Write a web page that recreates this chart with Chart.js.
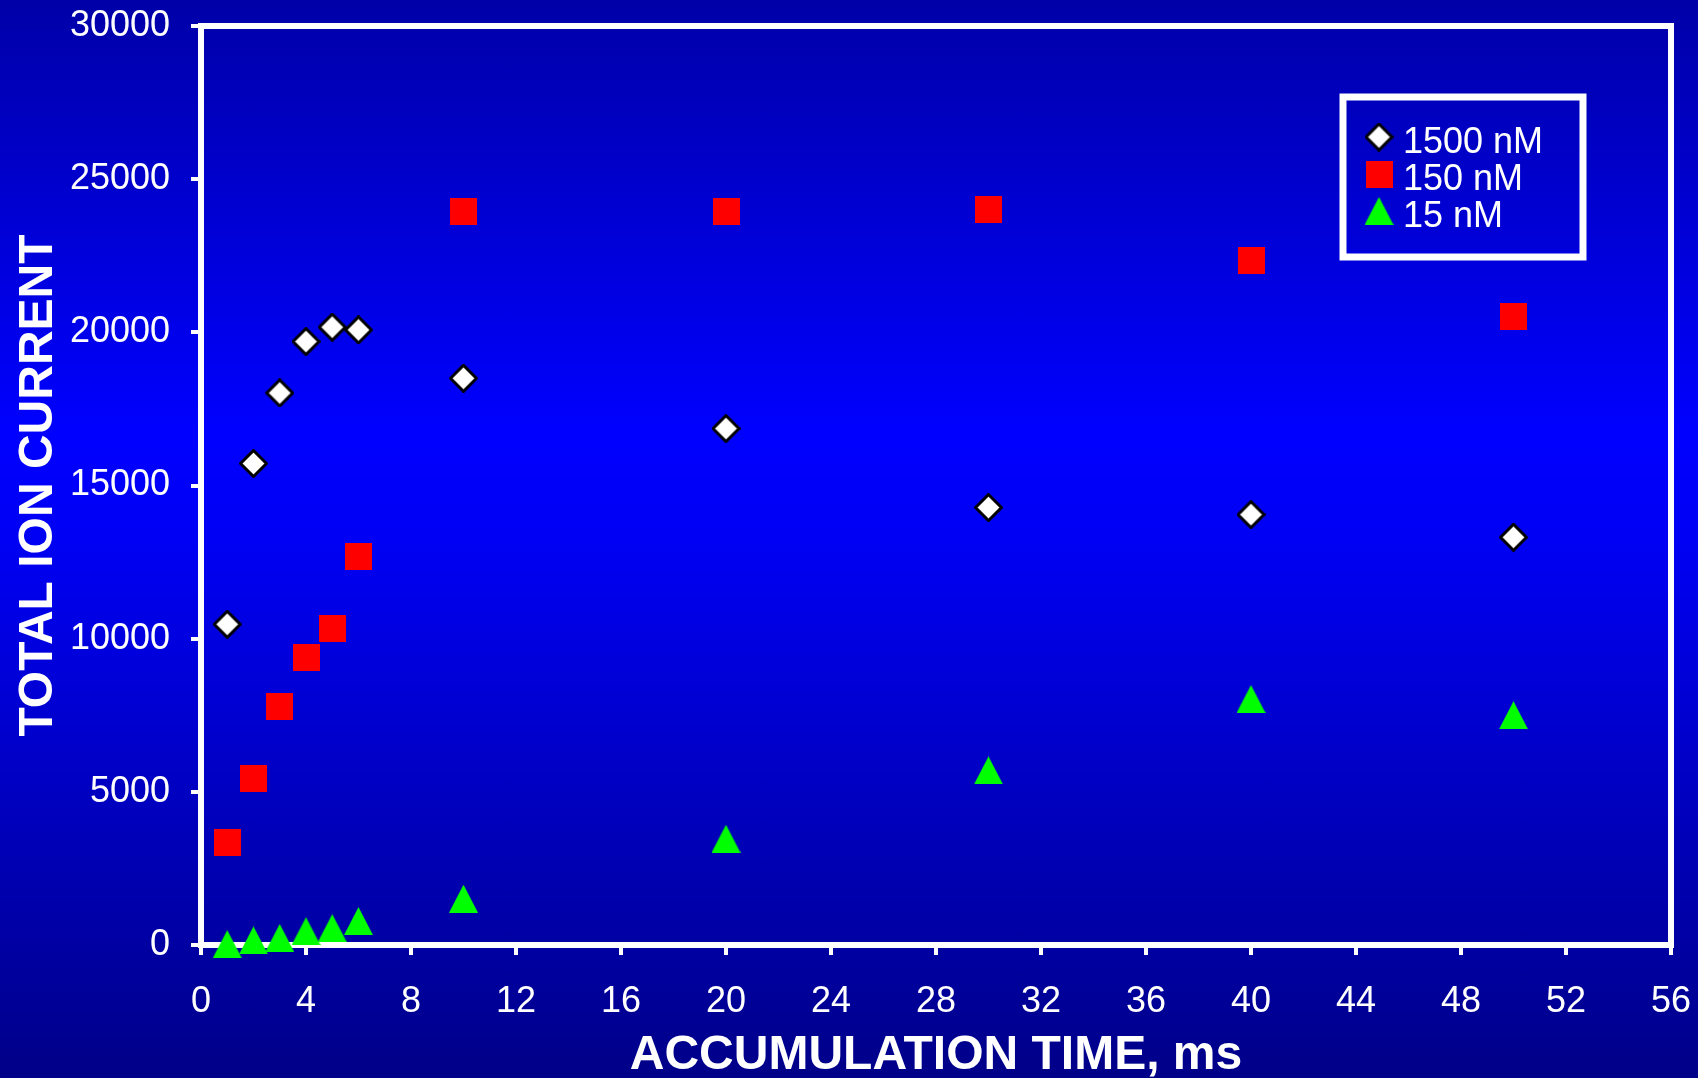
<!DOCTYPE html>
<html>
<head>
<meta charset="utf-8">
<title>Total ion current vs accumulation time</title>
<script src="https://cdn.jsdelivr.net/npm/chart.js@4.4.1/dist/chart.umd.min.js"></script>
<style>
  html, body { margin: 0; padding: 0; }
  body {
    width: 1698px;
    height: 1078px;
    overflow: hidden;
    background: linear-gradient(to bottom, #0000a8 0%, #0000ff 40%, #0000f4 50%, #000088 100%);
  }
</style>
</head>
<body>
<canvas id="ionChart" width="1698" height="1078"></canvas>
<script>
// accumulation time (ms) and total ion current per concentration
const accumTimes = [1, 2, 3, 4, 5, 6, 10, 20, 30, 40, 50];
const current1500 = [10470, 15720, 18020, 19700, 20170, 20080, 18500, 16860, 14280, 14050, 13310];
const current150 = [3350, 5440, 7800, 9390, 10340, 12670, 23960, 23960, 24010, 22330, 20520];
const current15 = [30, 150, 230, 450, 550, 780, 1510, 3470, 5700, 8030, 7500];
const seriesLabels = ['1500 nM', '150 nM', '15 nM'];

const xMax = 56, xStep = 4;
const yMax = 30000, yStep = 5000;

const FONT = "'Liberation Sans', Arial, sans-serif";

function makeDiamond(size) {
    const c = document.createElement('canvas');
    c.width = size; c.height = size;
    const g = c.getContext('2d');
    const h = size / 2;
    g.beginPath();
    g.moveTo(h, 1.5);
    g.lineTo(size - 1.5, h);
    g.lineTo(h, size - 1.5);
    g.lineTo(1.5, h);
    g.closePath();
    g.fillStyle = '#ffffff';
    g.fill();
    g.lineWidth = 3;
    g.strokeStyle = '#000000';
    g.stroke();
    return c;
}

function makeSquare(size) {
    const c = document.createElement('canvas');
    c.width = size; c.height = size;
    const g = c.getContext('2d');
    g.fillStyle = '#ff0000';
    g.fillRect(0, 0, size, size);
    return c;
}

function makeTriangle(w, h) {
    const c = document.createElement('canvas');
    c.width = w; c.height = h;
    const g = c.getContext('2d');
    g.beginPath();
    g.moveTo(w / 2, 0);
    g.lineTo(w, h);
    g.lineTo(0, h);
    g.closePath();
    g.fillStyle = '#00ff00';
    g.fill();
    return c;
}

const diamondImg = makeDiamond(29);
const squareImg = makeSquare(27);
const triangleImg = makeTriangle(29, 28);

function toPoints(values) {
    return accumTimes.map((t, i) => ({ x: t, y: values[i] }));
}

// keep the plot box fixed: no extra room for overhanging tick labels
function noScalePadding(scale) {
    scale.paddingLeft = 0;
    scale.paddingRight = 0;
    scale.paddingTop = 0;
    scale.paddingBottom = 0;
}

// white frame around the plot area, drawn under the markers
const plotFrame = {
    id: 'plotFrame',
    beforeDatasetsDraw(chart) {
        const { ctx, chartArea } = chart;
        ctx.save();
        ctx.strokeStyle = '#ffffff';
        ctx.lineWidth = 6;
        ctx.strokeRect(chartArea.left, chartArea.top, chartArea.right - chartArea.left, chartArea.bottom - chartArea.top);
        ctx.restore();
    }
};

// boxed legend in the upper right of the plot
const boxedLegend = {
    id: 'boxedLegend',
    afterDraw(chart) {
        const { ctx, chartArea } = chart;
        const x = chartArea.right - 328;
        const y = chartArea.top + 71;
        ctx.save();
        ctx.strokeStyle = '#ffffff';
        ctx.lineWidth = 7;
        ctx.strokeRect(x, y, 240, 160);
        ctx.font = '36px ' + FONT;
        ctx.fillStyle = '#ffffff';
        ctx.textAlign = 'left';
        ctx.textBaseline = 'alphabetic';
        chart.data.datasets.forEach((ds, i) => {
            const my = y + 40 + i * 37;
            const img = ds.pointStyle;
            ctx.drawImage(img, x + 36 - img.width / 2, my - img.height / 2);
            ctx.fillText(ds.label, x + 60, my + 16);
        });
        ctx.restore();
    }
};

const ctx = document.getElementById('ionChart').getContext('2d');
new Chart(ctx, {
    type: 'scatter',
    data: {
        datasets: [
            { label: seriesLabels[0], data: toPoints(current1500), pointStyle: diamondImg, clip: false },
            { label: seriesLabels[1], data: toPoints(current150), pointStyle: squareImg, clip: false },
            { label: seriesLabels[2], data: toPoints(current15), pointStyle: triangleImg, clip: false }
        ]
    },
    options: {
        responsive: false,
        animation: false,
        events: [],
        layout: { padding: { left: 1, top: 26, right: 27, bottom: 0 } },
        plugins: {
            legend: { display: false },
            tooltip: { enabled: false }
        },
        scales: {
            x: {
                type: 'linear',
                min: 0,
                max: xMax,
                afterFit: function (scale) {
                    scale.height = 133;
                    noScalePadding(scale);
                },
                ticks: {
                    stepSize: xStep,
                    autoSkip: false,
                    maxRotation: 0,
                    padding: 25,
                    color: '#ffffff',
                    font: { family: FONT, size: 36 }
                },
                grid: { drawOnChartArea: false, color: '#ffffff', lineWidth: 4, tickLength: 10 },
                border: { display: false },
                title: {
                    display: true,
                    text: 'ACCUMULATION TIME, ms',
                    color: '#ffffff',
                    font: { family: FONT, size: 48, weight: 'bold', lineHeight: 0.9 },
                    padding: { top: 0, bottom: 1 }
                }
            },
            y: {
                type: 'linear',
                min: 0,
                max: yMax,
                afterFit: function (scale) {
                    scale.width = 200;
                    noScalePadding(scale);
                },
                ticks: {
                    stepSize: yStep,
                    padding: 21,
                    color: '#ffffff',
                    font: { family: FONT, size: 36 },
                    callback: function (value) { return String(value); }
                },
                grid: { drawOnChartArea: false, color: '#ffffff', lineWidth: 4, tickLength: 10 },
                border: { display: false },
                title: {
                    display: true,
                    text: 'TOTAL ION CURRENT',
                    color: '#ffffff',
                    font: { family: FONT, size: 48, weight: 'bold', lineHeight: 0.9 },
                    padding: { top: 16, bottom: 0 }
                }
            }
        }
    },
    plugins: [plotFrame, boxedLegend]
});
</script>
</body>
</html>
